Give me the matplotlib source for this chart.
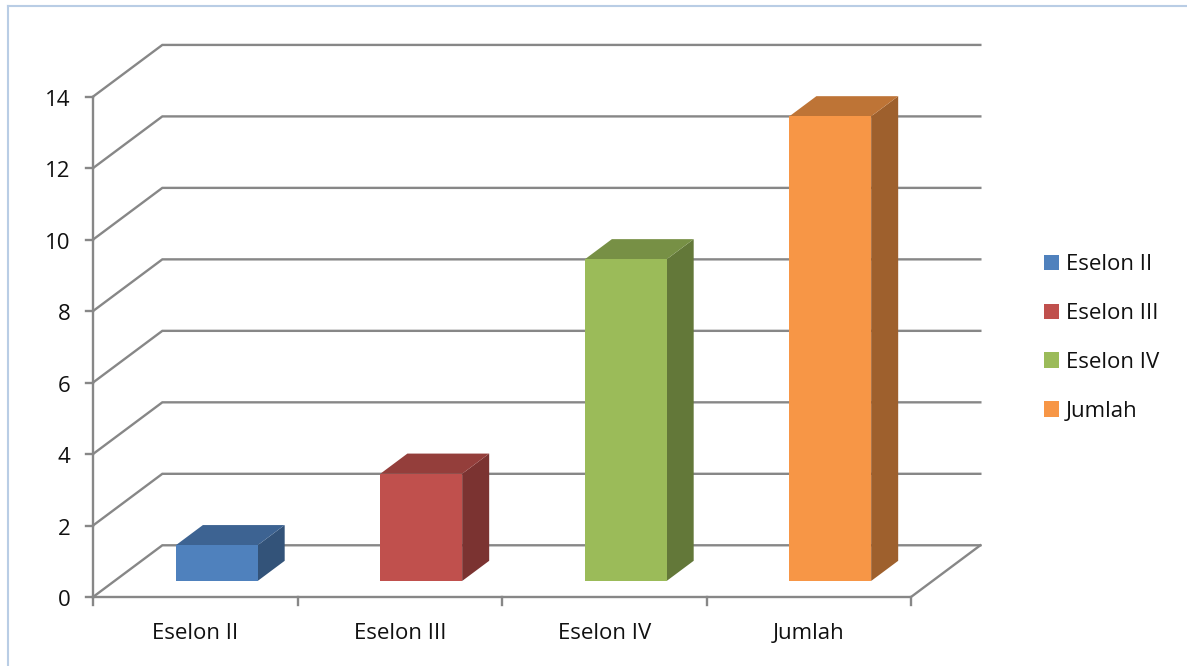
import matplotlib.pyplot as plt
from matplotlib.patches import Polygon, Patch
from matplotlib.colors import to_rgb

categories = ['Eselon II', 'Eselon III', 'Eselon IV', 'Jumlah']
values = [1, 3, 9, 13]
y_ticks = [0, 2, 4, 6, 8, 10, 12, 14]
colors = ['#4F81BD', '#C0504D', '#9BBB59', '#F79646']

# oblique offset of the full depth, in (category, value) units
DEPTH_DX = 0.339
DEPTH_DY = 1.447
GRID = '#878787'
FS = 16

plt.rcParams['font.family'] = ['Open Sans', 'DejaVu Sans']


def proj(u, v, z):
    return (u + z * DEPTH_DX, v + z * DEPTH_DY)


def shade(c, k):
    r, g, b = to_rgb(c)
    return (r * k, g * k, b * k)


fig = plt.figure(figsize=(11.87, 6.66), dpi=100)
ax = fig.add_axes([0, 0, 1, 1])
ax.set_xlim(-0.4548, 5.3496)
ax.set_ylim(-1.9306, 16.704)
ax.axis('off')

n = len(categories)

# walls: left side diagonals and back gridlines
for t in y_ticks:
    p0 = proj(0, t, 0)
    p1 = proj(0, t, 1)
    p2 = proj(n, t, 1)
    ax.plot([p0[0], p1[0], p2[0]], [p0[1], p1[1], p2[1]], color=GRID, lw=1.7,
            solid_joinstyle='miter', zorder=1)
    ax.plot([-0.034, 0], [t, t], color=GRID, lw=1.7, zorder=1)
    ax.text(-0.11, t - 0.1, str(t), ha='right', va='center', fontsize=FS,
            color='#111111')

# floor edges
a, b, c = proj(0, 0, 0), proj(n, 0, 0), proj(n, 0, 1)
ax.plot([a[0], b[0], c[0]], [a[1], b[1], c[1]], color=GRID, lw=1.7, zorder=1)
ax.plot([0, 0], [0, y_ticks[-1]], color=GRID, lw=1.7, zorder=1)
for i in range(n + 1):
    ax.plot([i, i], [0, -0.224], color=GRID, lw=1.7, zorder=1)

# 3D columns
z0, z1 = 0.31, 0.70
for i, (cat, v, col) in enumerate(zip(categories, values, colors)):
    u0, u1 = i + 0.3, i + 0.7
    front = [proj(u0, 0, z0), proj(u1, 0, z0), proj(u1, v, z0), proj(u0, v, z0)]
    top = [proj(u0, v, z0), proj(u1, v, z0), proj(u1, v, z1), proj(u0, v, z1)]
    side = [proj(u1, 0, z0), proj(u1, 0, z1), proj(u1, v, z1), proj(u1, v, z0)]
    ax.add_patch(Polygon(side, closed=True, fc=shade(col, 0.64), ec='none', zorder=3))
    ax.add_patch(Polygon(top, closed=True, fc=shade(col, 0.77), ec='none', zorder=3))
    ax.add_patch(Polygon(front, closed=True, fc=col, ec='none', zorder=4))
    ax.text(i + 0.5, -1.03, cat, ha='center', va='center', fontsize=FS,
            color='#111111')

handles = [Patch(fc=c, ec='none') for c in colors]
fig.legend(handles, categories, loc='center left',
           bbox_to_anchor=(1024 / 1187, 1 - 338 / 666), frameon=False,
           fontsize=FS, labelcolor='#111111', handlelength=0.68, handleheight=0.68,
           handletextpad=0.3, labelspacing=1.25)

# outer chart border
fig.add_artist(plt.Line2D([8 / 1187, 1.01], [1 - 6 / 666, 1 - 6 / 666],
                          transform=fig.transFigure, color='#B9CDE5', lw=1.5))
fig.add_artist(plt.Line2D([8 / 1187, 8 / 1187], [1 - 6 / 666, -0.01],
                          transform=fig.transFigure, color='#B9CDE5', lw=1.5))

fig.savefig('out.png', dpi=100)
